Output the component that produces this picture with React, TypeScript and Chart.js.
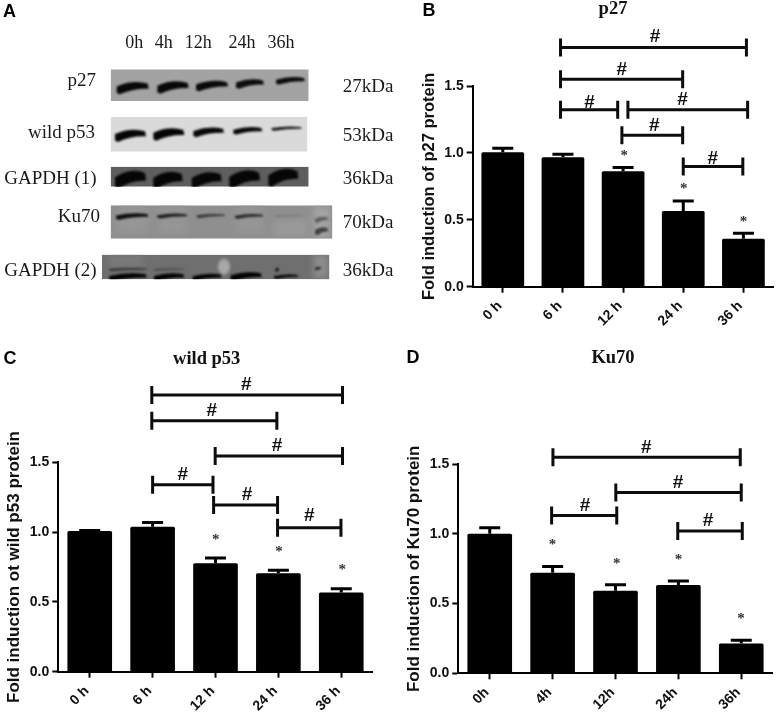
import React, { useEffect, useRef } from "react";
import { Chart, registerables } from "chart.js";

Chart.register(...registerables);

const SANS = '"Liberation Sans", Arial, sans-serif';
const SERIF = '"Liberation Serif", "Times New Roman", serif';

// Panel B
const catsB = ["0 h", "6 h", "12 h", "24 h", "36 h"];
const valuesB = [1.005, 0.968, 0.863, 0.566, 0.359];
const errTopB = [1.035, 0.99, 0.89, 0.64, 0.4];
const bracketsB = [[0.96, 4.05, 1.788], [0.96, 2.99, 1.551], [0.96, 1.91, 1.322], [2.08, 4.07, 1.322], [1.98, 2.99, 1.132], [3.0, 3.99, 0.898]];
const hashesB = [[2.53, 1.87], [1.98, 1.62], [1.44, 1.377], [2.99, 1.397], [2.52, 1.202], [3.49, 0.953]];
const starsB = [[2.02, 0.99], [3.01, 0.741], [4.0, 0.499]];

// Panel C
const catsC = ["0 h", "6 h", "12 h", "24 h", "36 h"];
const valuesC = [1.008, 1.039, 0.776, 0.705, 0.568];
const errTopC = [1.012, 1.068, 0.814, 0.726, 0.595];
const bracketsC = [[0.987, 4.02, 1.982], [0.987, 2.976, 1.798], [1.995, 4.02, 1.545], [1.0, 1.96, 1.34], [1.97, 2.987, 1.194], [2.987, 3.995, 1.032]];
const hashesC = [[2.49, 2.054], [1.94, 1.87], [2.98, 1.617], [1.48, 1.409], [2.5, 1.266], [3.49, 1.115]];
const starsC = [[2.005, 0.96], [3.01, 0.869], [4.016, 0.74]];

// Panel D
const catsD = ["0h", "4h", "12h", "24h", "36h"];
const valuesD = [1.002, 0.722, 0.593, 0.634, 0.213];
const errTopD = [1.045, 0.766, 0.636, 0.663, 0.237];
const bracketsD = [[1.005, 3.984, 1.55], [2.005, 4.0, 1.297], [0.984, 2.02, 1.132], [2.99, 4.016, 1.022]];
const hashesD = [[2.49, 1.622], [2.995, 1.368], [1.516, 1.203], [3.473, 1.096]];
const starsD = [[1.0, 0.931], [2.02, 0.801], [3.0, 0.825], [3.995, 0.402]];

// Panel A: blot rows, in a 1200 x 900 reading grid
const laneLabels = [["0h", 403], ["4h", 491], ["12h", 595], ["24h", 726], ["36h", 843]];
const blotP27 = {
  box: [332, 926, 208, 303], shade: "#a3a3a3", haze: [],
  bands: [[350, 446, 262, 28, 8], [472, 566, 260, 28, 8], [588, 684, 256, 24, 10], [708, 792, 250, 22, 12], [828, 915, 241, 17, 12]],
};
const blotP53 = {
  box: [332, 922, 350, 455], shade: "#dadada", haze: [],
  bands: [[345, 438, 405, 28, 5], [460, 553, 401, 28, 5], [580, 672, 395, 22, 8], [700, 787, 391, 17, 10], [815, 905, 385, 10, 25]],
};
const blotG1 = {
  box: [332, 926, 500, 560], shade: "#5e5e5e", haze: [],
  bands: [[345, 438, 536, 42, 6], [460, 548, 538, 40, 6], [575, 665, 538, 38, 6], [688, 780, 535, 42, 6], [805, 895, 530, 42, 6]],
};
const blotKu = {
  box: [332, 997, 616, 716], shade: "#8f8f8f",
  haze: [[348, 445, 620, 700, "#969696"], [472, 562, 620, 700, "#959595"], [705, 790, 620, 700, "#959595"], [820, 925, 660, 710, "#999999"], [940, 990, 620, 712, "#a4a4a4"]],
  bands: [[348, 445, 648, 15, 15], [472, 562, 647, 11, 30], [590, 675, 647, 9, 55], [705, 790, 648, 11, 40], [825, 910, 647, 4, 110], [945, 985, 658, 14, 95], [945, 985, 692, 18, 65]],
};
const blotG2 = {
  box: [306, 988, 764, 838], shade: "#6f6f6f",
  haze: [[328, 430, 764, 800, "#7a7a7a"], [940, 985, 764, 836, "#8c8c8c"]],
  bands: [[328, 440, 808, 7, 50], [462, 553, 808, 5, 60], [328, 440, 830, 18, 3], [462, 553, 830, 18, 3], [578, 665, 830, 16, 3], [692, 785, 828, 20, 3], [822, 895, 829, 10, 5], [826, 838, 808, 10, 20], [945, 965, 805, 8, 45]],
};
const blotRows = [blotP27, blotP53, blotG1, blotKu, blotG2];
const rowLabels = [["p27", 288, 243], ["wild p53", 285, 398], ["GAPDH (1)", 290, 537], ["Ku70", 300, 652], ["GAPDH (2)", 290, 812]];
const sizeLabels = [["27kDa", 260], ["53kDa", 407], ["36kDa", 537], ["70kDa", 670], ["36kDa", 812]];

function drawBand(ctx: CanvasRenderingContext2D, xs: any, ys: any, b: number[]) {
  const [x0, x1, yc, thick, grey] = b;
  const px0 = xs.getPixelForValue(x0), px1 = xs.getPixelForValue(x1), mid = (px0 + px1) / 2;
  const py = ys.getPixelForValue(yc);
  const t = ys.getPixelForValue(yc + thick) - py;
  ctx.fillStyle = `rgb(${grey},${grey},${grey})`;
  ctx.beginPath();
  ctx.moveTo(px0, py - 0.1 * t);
  ctx.quadraticCurveTo(mid, py - 0.85 * t, px1 - 1, py - 0.4 * t);
  ctx.lineTo(px1, py + 0.15 * t);
  ctx.quadraticCurveTo(mid, py + 0.1 * t, px0 + 3, py + 0.75 * t);
  ctx.lineTo(px0, py + 0.6 * t);
  ctx.closePath();
  ctx.fill();
}

const blotPlugin = {
  id: "blot",
  afterDraw(chart: any) {
    const { ctx, scales: { x, y } } = chart;
    ctx.save();
    ctx.fillStyle = "#000";
    ctx.font = `bold 18px ${SANS}`;
    ctx.textBaseline = "middle";
    ctx.textAlign = "left";
    ctx.fillText("A", 3, 12);
    ctx.fillStyle = "#1a1a1a";
    ctx.font = `18px ${SERIF}`;
    ctx.textAlign = "center";
    laneLabels.forEach(([t, lx]: any) => ctx.fillText(t, x.getPixelForValue(lx), y.getPixelForValue(131)));
    ctx.font = `19px ${SERIF}`;
    ctx.textAlign = "right";
    rowLabels.forEach(([t, lx, ly]: any) => ctx.fillText(t, x.getPixelForValue(lx), y.getPixelForValue(ly)));
    ctx.textAlign = "left";
    sizeLabels.forEach(([t, ly]: any) => ctx.fillText(t, x.getPixelForValue(1028), y.getPixelForValue(ly)));
    blotRows.forEach((row) => {
      const [l, r, t, b] = row.box;
      const pl = x.getPixelForValue(l), pr = x.getPixelForValue(r), pt = y.getPixelForValue(t), pb = y.getPixelForValue(b);
      ctx.save();
      ctx.beginPath();
      ctx.rect(pl, pt, pr - pl, pb - pt);
      ctx.clip();
      ctx.fillStyle = row.shade;
      ctx.fillRect(pl, pt, pr - pl, pb - pt);
      ctx.filter = "blur(3px)";
      (row.haze as any[]).forEach(([h0, h1, v0, v1, col]) => {
        ctx.fillStyle = col;
        ctx.fillRect(x.getPixelForValue(h0), y.getPixelForValue(v0), x.getPixelForValue(h1) - x.getPixelForValue(h0), y.getPixelForValue(v1) - y.getPixelForValue(v0));
      });
      if (row === blotG2) {
        ctx.filter = "blur(1.5px)";
        ctx.fillStyle = "#a8a8a8";
        ctx.beginPath();
        ctx.ellipse(x.getPixelForValue(672), y.getPixelForValue(800), 6, 8, 0, 0, Math.PI * 2);
        ctx.fill();
      }
      ctx.filter = "blur(0.8px)";
      row.bands.forEach((band) => drawBand(ctx, x, y, band));
      ctx.restore();
    });
    ctx.restore();
  },
};

type Panel = {
  letter: string; letterX: number; letterY: number;
  title: string; titleX: number; titleY: number;
  yTitle: string; yTitlePad: number; yTitleSize: number;
  cats: string[]; values: number[]; errTop: number[];
  brackets: number[][]; hashes: number[][]; stars: number[][];
  plotTop: number; plotLeft: number; plotBottom: number; plotRight: number;
  w: number; h: number; tickSize: number;
};

function decorPlugin(p: Panel) {
  return {
    id: "decor",
    afterDatasetsDraw(chart: any) {
      const { ctx, scales: { x, y } } = chart;
      ctx.save();
      ctx.strokeStyle = "#000";
      ctx.lineWidth = 3;
      p.errTop.forEach((top, i) => {
        const cx = x.getPixelForValue(i), py = y.getPixelForValue(top), base = y.getPixelForValue(p.values[i]);
        ctx.beginPath();
        ctx.moveTo(cx, base);
        ctx.lineTo(cx, py);
        ctx.moveTo(cx - 10.5, py);
        ctx.lineTo(cx + 10.5, py);
        ctx.stroke();
      });
      ctx.strokeStyle = "#0c0c0c";
      p.brackets.forEach(([a, b, lv]) => {
        const xa = x.getPixelForValue(a), xb = x.getPixelForValue(b), py = y.getPixelForValue(lv);
        ctx.beginPath();
        ctx.moveTo(xa, py);
        ctx.lineTo(xb, py);
        ctx.moveTo(xa, py - 9);
        ctx.lineTo(xa, py + 9);
        ctx.moveTo(xb, py - 9);
        ctx.lineTo(xb, py + 9);
        ctx.stroke();
      });
      ctx.textAlign = "center";
      ctx.textBaseline = "middle";
      ctx.fillStyle = "#111";
      ctx.font = `bold 19px ${SANS}`;
      p.hashes.forEach(([a, lv]) => ctx.fillText("#", x.getPixelForValue(a), y.getPixelForValue(lv)));
      ctx.fillStyle = "#333";
      ctx.font = `bold 15px ${SERIF}`;
      p.stars.forEach(([a, lv]) => ctx.fillText("*", x.getPixelForValue(a), y.getPixelForValue(lv) + 2));
      ctx.fillStyle = "#000";
      ctx.font = `bold 18px ${SANS}`;
      ctx.fillText(p.letter, p.letterX, p.letterY);
      ctx.fillStyle = "#111";
      ctx.font = `bold 18.5px ${SERIF}`;
      ctx.fillText(p.title, p.titleX, p.titleY);
      ctx.restore();
    },
  };
}

function makePanel(canvas: HTMLCanvasElement, p: Panel) {
  return new Chart(canvas, {
    type: "bar",
    data: {
      labels: p.cats,
      datasets: [{ data: p.values, backgroundColor: "#000", borderRadius: 1.5, barPercentage: 0.71, categoryPercentage: 1 }],
    },
    plugins: [decorPlugin(p)],
    options: {
      animation: false,
      responsive: false,
      devicePixelRatio: 1,
      layout: { padding: { top: p.plotTop, right: p.w - p.plotRight, left: 0, bottom: 0 } },
      plugins: { legend: { display: false }, title: { display: false }, tooltip: { enabled: false } },
      scales: {
        x: {
          offset: true,
          afterFit: (s: any) => { s.height = p.h - p.plotBottom; },
          border: { color: "#000", width: 2 },
          grid: { offset: false, drawOnChartArea: false, drawTicks: true, tickLength: 6, tickWidth: 2, tickColor: "#000" },
          ticks: { color: "#111", font: { family: SANS, weight: "bold", size: 14 }, minRotation: 45, maxRotation: 45, padding: 5, labelOffset: -3, autoSkip: false },
        },
        y: {
          min: 0, max: 1.5,
          afterFit: (s: any) => { s.width = p.plotLeft; },
          border: { color: "#000", width: 2 },
          grid: { drawOnChartArea: false, drawTicks: true, tickLength: 6, tickWidth: 2, tickColor: "#000" },
          ticks: { stepSize: 0.5, color: "#111", font: { family: SANS, weight: "bold", size: p.tickSize }, padding: 3, callback: (v: any) => Number(v).toFixed(1) },
          title: { display: true, text: p.yTitle, color: "#111", font: { family: SANS, weight: "bold", size: p.yTitleSize }, padding: { top: p.yTitlePad, bottom: 0 } },
        },
      },
    },
  } as any);
}

const panelB: Panel = { letter: "B", letterX: 29, letterY: 11, title: "p27", titleX: 213, titleY: 9, yTitle: "Fold induction of p27 protein", yTitlePad: 20, yTitleSize: 16.5, cats: catsB, values: valuesB, errTop: errTopB, brackets: bracketsB, hashes: hashesB, stars: starsB, plotTop: 86, plotLeft: 72.7, plotBottom: 286.7, plotRight: 373.5, w: 377, h: 340, tickSize: 14 };
const panelC: Panel = { letter: "C", letterX: 10, letterY: 9, title: "wild p53", titleX: 206.7, titleY: 9, yTitle: "Fold induction ot wild p53 protein", yTitlePad: 4, yTitleSize: 17, cats: catsC, values: valuesC, errTop: errTopC, brackets: bracketsC, hashes: hashesC, stars: starsC, plotTop: 112.3, plotLeft: 58.3, plotBottom: 321.7, plotRight: 372.7, w: 390, h: 364, tickSize: 14 };
const panelD: Panel = { letter: "D", letterX: 23, letterY: 8, title: "Ku70", titleX: 223, titleY: 8, yTitle: "Fold induction of Ku70 protein", yTitlePad: 14, yTitleSize: 17, cats: catsD, values: valuesD, errTop: errTopD, brackets: bracketsD, hashes: hashesD, stars: starsD, plotTop: 114.3, plotLeft: 68.3, plotBottom: 323.3, plotRight: 382.7, w: 387, h: 364, tickSize: 14 };

export default function App() {
  const a = useRef<HTMLCanvasElement>(null);
  const b = useRef<HTMLCanvasElement>(null);
  const c = useRef<HTMLCanvasElement>(null);
  const d = useRef<HTMLCanvasElement>(null);
  useEffect(() => {
    const blot = new Chart(a.current!, {
      type: "scatter",
      data: { datasets: [] },
      plugins: [blotPlugin],
      options: {
        animation: false, responsive: false, devicePixelRatio: 1,
        layout: { padding: 0 },
        plugins: { legend: { display: false }, tooltip: { enabled: false } },
        scales: {
          x: { type: "linear", min: 0, max: 1200, display: false },
          y: { type: "linear", min: 0, max: 900, reverse: true, display: false },
        },
      },
    } as any);
    const charts = [blot, makePanel(b.current!, panelB), makePanel(c.current!, panelC), makePanel(d.current!, panelD)];
    return () => charts.forEach((ch) => ch.destroy());
  }, []);
  const pos = (left: number, top: number) => ({ position: "absolute" as const, left, top, display: "block" });
  return (
    <div style={{ position: "fixed", left: 0, top: 0, width: 777, height: 714, background: "#fff", overflow: "hidden" }}>
      <canvas ref={a} width={400} height={300} style={pos(0, 0)} />
      <canvas ref={b} width={377} height={340} style={pos(400, 0)} />
      <canvas ref={c} width={390} height={364} style={pos(0, 350)} />
      <canvas ref={d} width={387} height={364} style={pos(390, 350)} />
    </div>
  );
}
